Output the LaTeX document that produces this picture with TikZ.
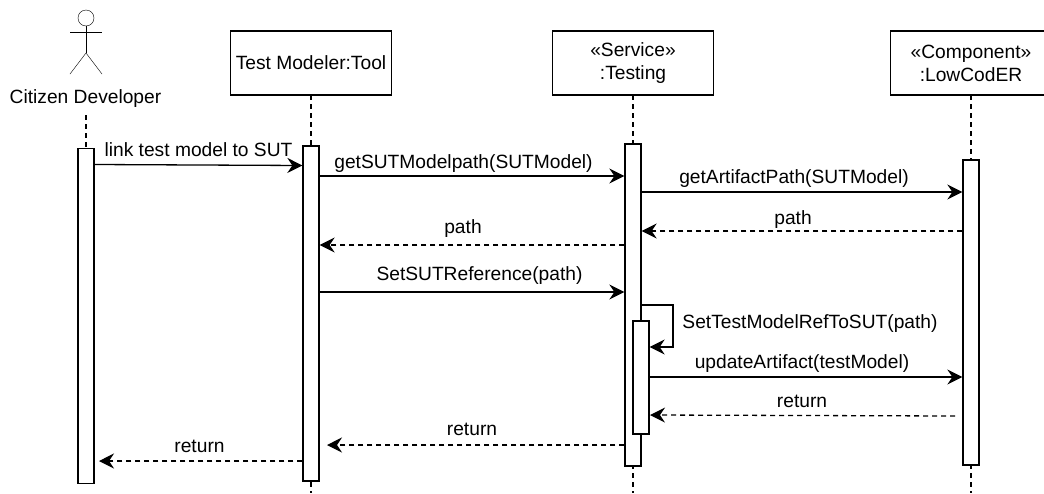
\documentclass[tikz,border=0pt]{standalone}
\usepackage{fontspec}
\setmainfont{Liberation Sans}
\usetikzlibrary{arrows.meta}
\tikzset{
  x=1pt,y=-1pt,
  line width=1.3pt,
  box/.style={draw,fill=white,line width=1.3pt,minimum width=161pt,minimum height=64pt,inner sep=0pt,align=center,font=\fontsize{19.2}{23}\selectfont},
  act/.style={draw,fill=white,line width=1.3pt,minimum width=16pt,inner sep=0pt},
  life/.style={line width=1.3pt,dash pattern=on 5pt off 4pt},
  lbl/.style={inner sep=0pt,font=\fontsize{19.2}{23}\selectfont,anchor=base},
  tipp/.style={-{Stealth[length=15pt,width=15pt,inset=5pt]}},
  msg/.style={tipp,line width=1.3pt},
  ret/.style={tipp,line width=1.3pt,dash pattern=on 5pt off 4pt},
}
\begin{document}
\begin{tikzpicture}
\useasboundingbox (0,0) rectangle (1044,493);
% lifelines
\coordinate (l1a) at (86,115); \coordinate (l1b) at (86,149);
\coordinate (l2a) at (311,95); \coordinate (l2b) at (311,493);
\coordinate (l3a) at (633,95); \coordinate (l3b) at (633,493);
\coordinate (l4a) at (971,95); \coordinate (l4b) at (971,493);
\draw[life] (l1a) -- (l1b);
\draw[life] (l2a) -- (l2b);
\draw[life] (l3a) -- (l3b);
\draw[life] (l4a) -- (l4b);
% actor
\node[draw,circle,minimum size=16pt,inner sep=0pt] (head) at (86,18) {};
\coordinate (armL) at (70,32); \coordinate (armR) at (102,32);
\coordinate (hip) at (86,53); \coordinate (legL) at (70,74); \coordinate (legR) at (102,74);
\draw (head.south) -- (hip);
\draw (armL) -- (armR);
\draw (legL) -- (hip) -- (legR);
\node[lbl] (actor) at (85.5,103) {Citizen Developer};
% boxes
\node[box] (tm) at (311,63) {Test Modeler:Tool};
\node[box] (ts) at (633,63) {«Service»\\:Testing};
\node[box] (lc) at (971,63) {«Component»\\:LowCodER};
% activations
\node[act,minimum height=335pt] (a1) at (86,316) {};
\node[act,minimum height=335pt] (a2) at (311,313.5) {};
\node[act,minimum height=322pt] (a3) at (633,305) {};
\node[act,minimum height=305pt] (a4) at (971,312.5) {};
\node[act,minimum height=113pt] (a5) at (641,377.5) {};
% messages
\coordinate (c1a) at (a1.east|-0,164.5); \coordinate (c1b) at (a2.west|-0,165.5);
\draw[msg] (c1a) -- (c1b);
\draw[msg] (a2.east|-0,176) -- (a3.west|-0,176);
\draw[msg] (a3.east|-0,192) -- (a4.west|-0,192);
\draw[ret] (a4.west|-0,231) -- (a3.east|-0,231);
\draw[ret] (a3.west|-0,245) -- (a2.east|-0,245);
\draw[msg] (a2.east|-0,292) -- (a3.west|-0,292);
\coordinate (s1) at (673,305); \coordinate (s2) at (673,347);
\draw[msg] (a3.east|-0,305) -- (s1) -- (s2) -- (a5.east|-0,347);
\draw[msg] (a5.east|-0,377) -- (a4.west|-0,377);
\coordinate (r1) at (955,416); \coordinate (r2) at (650,415);
\draw[ret] (r1) -- (r2);
\coordinate (r3) at (327,445);
\draw[ret] (a3.west|-0,445) -- (r3);
\coordinate (r4) at (99,461);
\draw[ret] (a2.west|-0,461) -- (r4);
% labels
\node[lbl] (m1) at (198.5,156) {link test model to SUT};
\node[lbl] (m2) at (463.5,168) {getSUTModelpath(SUTModel)};
\node[lbl] (m3) at (794,183) {getArtifactPath(SUTModel)};
\node[lbl] (m4) at (793,224) {path};
\node[lbl] (m5) at (463,233) {path};
\node[lbl] (m6) at (479.5,280) {SetSUTReference(path)};
\node[lbl] (m7) at (810,328) {SetTestModelRefToSUT(path)};
\node[lbl] (m8) at (802,368) {updateArtifact(testModel)};
\node[lbl] (m9) at (802,407) {return};
\node[lbl] (m10) at (472,435) {return};
\node[lbl] (m11) at (199.5,452) {return};
\end{tikzpicture}
\end{document}
